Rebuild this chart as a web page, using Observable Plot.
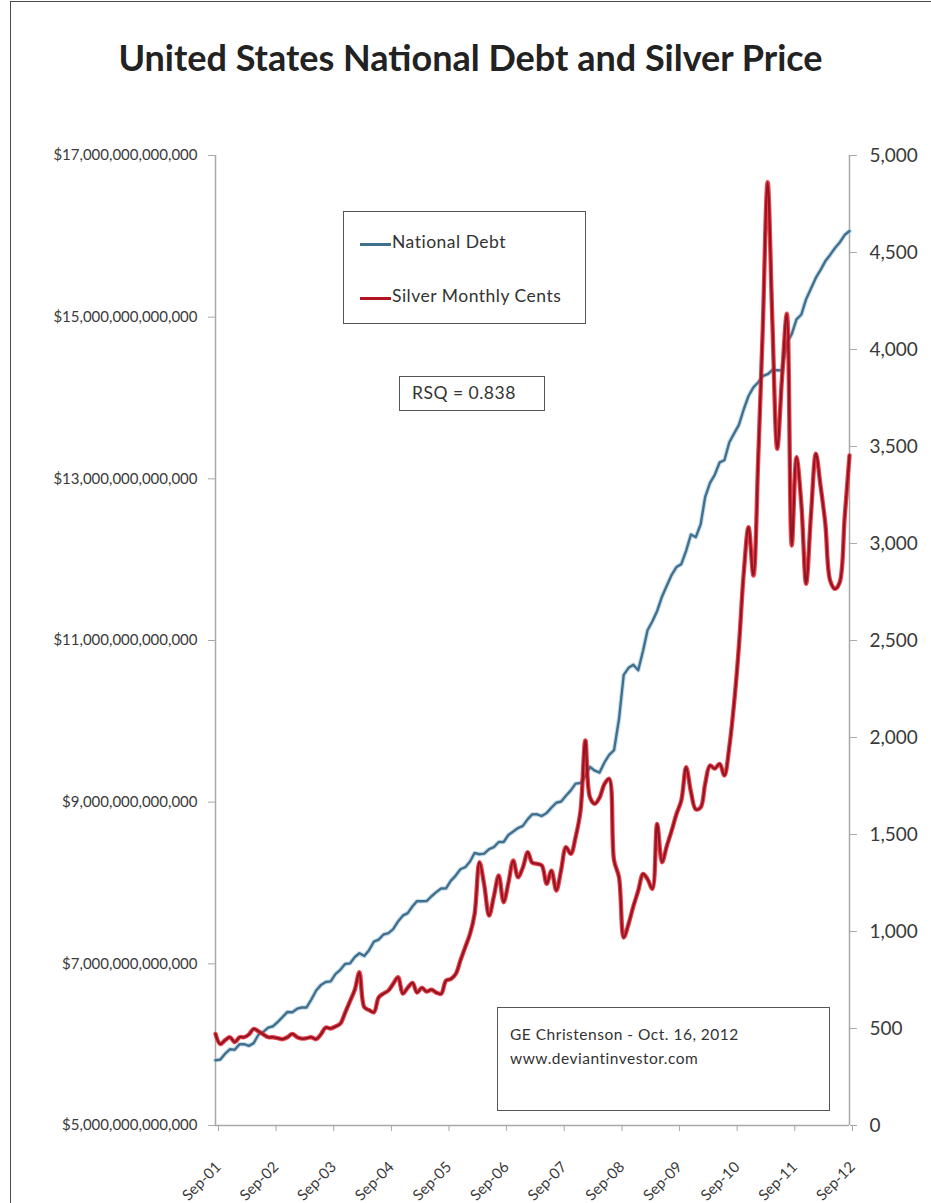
<!DOCTYPE html>
<html>
<head>
<meta charset="utf-8">
<script src="https://cdn.jsdelivr.net/npm/d3@7"></script>
<script src="https://cdn.jsdelivr.net/npm/@observablehq/plot@0.6"></script>
<style>
  body { margin: 0; background: #fff; }
  #wrap { position: relative; width: 931px; height: 1203px; overflow: hidden; background: #fff; font-family: Lato, "Open Sans", sans-serif; color: #333; }
  #frame { position: absolute; left: 10px; top: 1px; width: 925px; height: 1215px; border: 1.5px solid #4a4a4a; box-sizing: border-box; pointer-events: none; }
  #title { position: absolute; left: 10px; top: 35px; width: 921px; text-align: center; font-size: 36px; font-weight: 700; color: #222; white-space: nowrap; }
  #chart { position: absolute; left: 0; top: 110px; }
  .box { position: absolute; border: 1.3px solid #555; background: #fff; box-sizing: border-box; color: #333; }
  .leg { position: absolute; font-size: 17.5px; letter-spacing: 0.5px; white-space: nowrap; }
  .cap { position: absolute; font-size: 15.5px; letter-spacing: 0.5px; white-space: nowrap; }
  .legline { position: absolute; height: 3px; }
</style>
</head>
<body>
<div id="wrap">
  <div id="title">United States National Debt and Silver Price</div>
  <div id="chart"></div>
  <div class="box" style="left:343px;top:211px;width:243px;height:113px;">
    <div class="legline" style="left:16px;top:31px;width:31px;background:#41708f;"></div>
    <div class="leg" style="left:48px;top:19px;">National Debt</div>
    <div class="legline" style="left:16px;top:85px;width:31px;background:#b3151f;"></div>
    <div class="leg" style="left:48px;top:73px;">Silver Monthly Cents</div>
  </div>
  <div class="box" style="left:399px;top:376px;width:146px;height:35px;">
    <div class="leg" style="left:12px;top:5px;">RSQ = 0.838</div>
  </div>
  <div class="box" style="left:497px;top:1007px;width:333px;height:104px;">
    <div class="cap" style="left:12px;top:17px;">GE Christenson - Oct. 16, 2012</div>
    <div class="cap" style="left:12px;top:41px;">www.deviantinvestor.com</div>
  </div>
  <div id="frame"></div>
</div>
<script>
// Monthly, Sep 2001 .. Sep 2012
const startMonth = [2001, 8]; // Sep 2001 (month index 8)
// National debt, trillions of dollars
const debt = [
  5.807, 5.815, 5.888, 5.943,
  5.937, 6.007, 6.006, 5.985, 6.019, 6.126, 6.159, 6.211, 6.228, 6.283, 6.343, 6.405,
  6.401, 6.445, 6.460, 6.460, 6.558, 6.670, 6.737, 6.776, 6.783, 6.873, 6.926, 6.998,
  7.005, 7.084, 7.131, 7.098, 7.169, 7.274, 7.299, 7.363, 7.379, 7.429, 7.525, 7.596,
  7.627, 7.713, 7.776, 7.774, 7.777, 7.836, 7.887, 7.932, 7.933, 8.027, 8.092, 8.170,
  8.196, 8.269, 8.371, 8.356, 8.363, 8.420, 8.443, 8.507, 8.507, 8.594, 8.637, 8.680,
  8.707, 8.790, 8.849, 8.850, 8.828, 8.867, 8.932, 8.993, 9.008, 9.079, 9.146, 9.229,
  9.237, 9.320, 9.437, 9.389, 9.366, 9.492, 9.585, 9.645, 10.025, 10.574, 10.662, 10.700,
  10.632, 10.877, 11.127, 11.238, 11.366, 11.545, 11.678, 11.812, 11.910, 11.945, 12.111, 12.311,
  12.278, 12.439, 12.773, 12.949, 13.050, 13.203, 13.230, 13.450, 13.562, 13.667, 13.861, 14.025,
  14.131, 14.195, 14.270, 14.294, 14.344, 14.343, 14.342, 14.684, 14.790, 14.974, 15.033, 15.223,
  15.356, 15.489, 15.582, 15.694, 15.770, 15.856, 15.924, 16.016, 16.066
];
// Silver, cents per ounce
const silver = [
  472, 420, 440, 455,
  430, 455, 455, 470, 498, 485, 470, 455, 455, 450, 445, 455,
  472, 455, 448, 450, 455, 445, 470, 505, 500, 510, 525, 580,
  640, 700, 790, 610, 595, 584, 660, 680, 696, 730, 764, 680,
  710, 735, 685, 710, 690, 700, 685, 679, 747, 755, 780, 850,
  920, 990, 1090, 1357, 1240, 1082, 1180, 1289, 1151, 1250, 1366, 1280,
  1330, 1409, 1355, 1349, 1340, 1246, 1314, 1211, 1320, 1435, 1400, 1486,
  1620, 1985, 1692, 1658, 1690, 1760, 1787, 1366, 1280, 969, 1040, 1130,
  1210, 1297, 1270, 1220, 1555, 1357, 1440, 1520, 1607, 1675, 1847, 1720,
  1630, 1640, 1760, 1856, 1840, 1864, 1804, 1950, 2180, 2470, 2850, 3084,
  2835, 3450, 4100, 4862, 4150, 3488, 3850, 4184, 2990, 3445, 3200, 2792,
  3150, 3463, 3300, 3100, 2810, 2766, 2800, 3130, 3454
];
const debtTicks = [5, 7, 9, 11, 13, 15, 17];            // trillions
const silverTicks = [0, 500, 1000, 1500, 2000, 2500, 3000, 3500, 4000, 4500, 5000];
const tickYears = [2001, 2002, 2003, 2004, 2005, 2006, 2007, 2008, 2009, 2010, 2011, 2012];

const dates = debt.map((_, i) => new Date(Date.UTC(startMonth[0], startMonth[1] + i, 1)));
const rows = dates.map((d, i) => ({date: d, debt: debt[i], silver: silver[i]}));
// silver axis (0..5000) shares the plot height with debt axis (5..17 T)
const sv = c => 5 + c * 12 / 5000;
const vs = y => Math.round((y - 5) * 5000 / 12);
const xTicks = tickYears.map(y => new Date(Date.UTC(y, 8, 1)));
const fmtMonth = d3.utcFormat("%b-%y");
const fmtBig = d3.format(",.0f");

const axisColor = "#a9a9a9";
const chart = Plot.plot({
  width: 931,
  height: 1093,
  marginLeft: 215,
  marginRight: 82,
  marginTop: 45,
  marginBottom: 78,
  style: {fontFamily: "Lato, 'Open Sans', sans-serif", color: "#3a3a3a", background: "transparent", overflow: "visible"},
  x: {type: "utc", domain: [xTicks[0], xTicks[xTicks.length - 1]]},
  y: {domain: [5, 17]},
  marks: [
    Plot.ruleX([xTicks[0]], {stroke: axisColor, strokeWidth: 1.5}),
    Plot.ruleX([xTicks[xTicks.length - 1]], {stroke: axisColor, strokeWidth: 1.5}),
    Plot.ruleY([5], {stroke: axisColor, strokeWidth: 1.5}),
    Plot.axisY({anchor: "left", ticks: debtTicks, tickFormat: v => "$" + fmtBig(v * 1e12),
      tickSize: 7, tickPadding: 11, fontSize: 15, stroke: axisColor, label: null,
      style: {letterSpacing: "2.5px"}}),
    Plot.axisY({anchor: "right", ticks: silverTicks.map(sv), tickFormat: v => d3.format(",")(vs(v)),
      tickSize: 7, tickPadding: 13, fontSize: 19, stroke: axisColor, label: null,
      style: {letterSpacing: "2px"}}),
    Plot.axisX({ticks: xTicks, tickFormat: fmtMonth, tickRotate: -45, tickSize: 6, tickPadding: 33, dx: 3,
      fontSize: 15, stroke: axisColor, label: null}),
    Plot.line(rows, {x: "date", y: "debt", stroke: "#9cc3d8", strokeWidth: 4.6, strokeOpacity: 0.55}),
    Plot.line(rows, {x: "date", y: "debt", stroke: "#41708f", strokeWidth: 2.4}),
    Plot.line(rows, {x: "date", y: d => sv(d.silver), stroke: "#e8232c", strokeWidth: 4.4, curve: "catmull-rom", strokeOpacity: 0.85}),
    Plot.line(rows, {x: "date", y: d => sv(d.silver), stroke: "#931423", strokeWidth: 2.2, curve: "catmull-rom"})
  ]
});
document.getElementById("chart").appendChild(chart);
</script>
</body>
</html>
